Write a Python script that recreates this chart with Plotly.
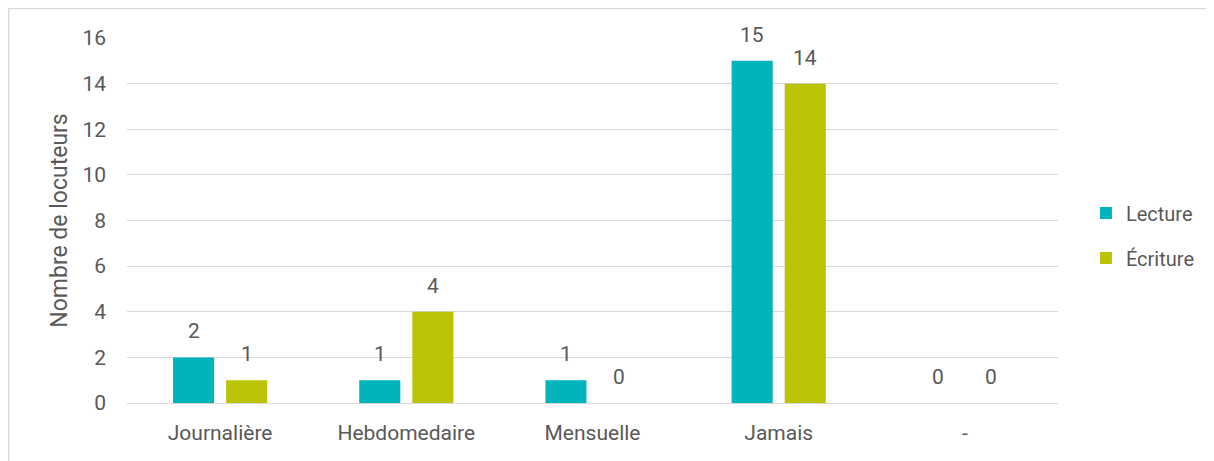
import plotly.graph_objects as go

categories = ["Journalière", "Hebdomedaire", "Mensuelle", "Jamais", "-"]
lecture = [2, 1, 1, 15, 0]
ecriture = [1, 4, 0, 14, 0]
series_names = ["Lecture", "Écriture"]
y_ticks = [0, 2, 4, 6, 8, 10, 12, 14, 16]

W, H = 1206, 453
ML, MR, MT, MB = 119, 156, 30, 58
pw, ph = W - ML - MR, H - MT - MB

text_color = "#595959"
font_family = "Roboto, 'Noto Sans', sans-serif"
colors = ["#00B4BC", "#BAC405"]

fig = go.Figure()
for name, vals, col, grp in [(series_names[0], lecture, colors[0], "a"),
                             (series_names[1], ecriture, colors[1], "b")]:
    fig.add_trace(go.Bar(
        x=categories, y=vals, name=name,
        marker=dict(color=col, line=dict(width=0)),
        legendgroup=grp,
    ))

# value labels above bars (positioned from data)
n_cat = len(categories)
cat_w = pw / n_cat
bargap, bargroupgap = 0.43, 0.226
slot = cat_w * (1 - bargap) / 2
for i, cat in enumerate(categories):
    for vals, sgn in [(lecture, -1), (ecriture, 1)]:
        fig.add_annotation(
            x=cat, y=vals[i], xref="x", yref="y",
            text=str(vals[i]), showarrow=False,
            xshift=sgn * slot / 2, yshift=26, yanchor="middle",
            font=dict(size=21, color=text_color, family=font_family),
        )

# light border (top and left edges visible)
bx = -ML / pw + 0.6 / pw
by = 1 + (MT - 0.6) / ph
fig.add_shape(type="line", xref="paper", yref="paper", x0=bx, x1=1 + MR / pw, y0=by, y1=by,
              line=dict(color="#D9D9D9", width=1.5))
fig.add_shape(type="line", xref="paper", yref="paper", x0=bx, x1=bx, y0=by, y1=-MB / ph,
              line=dict(color="#D9D9D9", width=1.5))

fig.update_layout(
    width=W, height=H,
    margin=dict(l=ML, r=MR, t=MT, b=MB, pad=0),
    paper_bgcolor="white", plot_bgcolor="white",
    barmode="group", bargap=bargap, bargroupgap=bargroupgap,
    font=dict(family=font_family, color=text_color, size=21),
    showlegend=True,
    legend=dict(
        x=1.030, y=0.459, xanchor="left", yanchor="middle",
        font=dict(size=20, color=text_color, family=font_family),
        traceorder="grouped", tracegroupgap=16,
    ),
    xaxis=dict(
        showgrid=False, showline=False, ticks="",
        ticklabelstandoff=15,
        tickfont=dict(size=21, color=text_color),
    ),
    yaxis=dict(
        range=[0, 16], tickvals=y_ticks,
        showgrid=True, gridcolor="#D9D9D9", gridwidth=1,
        zeroline=True, zerolinecolor="#D9D9D9", zerolinewidth=1,
        showline=False, ticks="", ticklabelstandoff=20,
        tickfont=dict(size=21, color=text_color),
        title=dict(text="Nombre de locuteurs", font=dict(size=23, color=text_color), standoff=8),
    ),
)

fig.write_html("out.html")
